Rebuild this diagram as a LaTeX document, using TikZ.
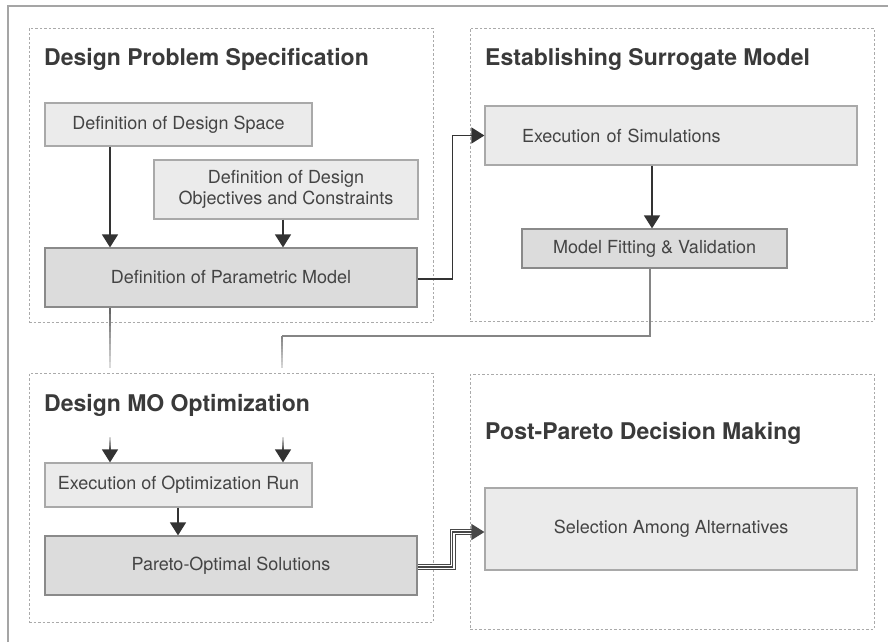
\documentclass[tikz,border=0pt]{standalone}
\usepackage{fontspec}
\setmainfont{TeX Gyre Heros}
\usetikzlibrary{arrows.meta,calc}
\definecolor{txt}{HTML}{444444}
\definecolor{ttlc}{HTML}{3A3A3A}
\definecolor{lbf}{HTML}{EBEBEB}
\definecolor{lbd}{HTML}{A9A9A9}
\definecolor{dbf}{HTML}{DCDCDC}
\definecolor{dbd}{HTML}{8A8A8A}
\definecolor{arc}{HTML}{333333}
\definecolor{pnl}{HTML}{AAAAAA}
\definecolor{frm}{HTML}{A5A5A5}
\definecolor{conn}{HTML}{858585}
\begin{document}
\begin{tikzpicture}[x=1pt,y=-1pt,
  lbox/.style={draw=lbd, fill=lbf, line width=1.2pt, inner sep=0pt, text=txt,
    font=\fontsize{18}{21}\selectfont, align=center},
  dbox/.style={lbox, draw=dbd, fill=dbf},
  panel/.style={draw=pnl, line width=0.9pt, dash pattern=on 2.5pt off 2pt, inner sep=0pt},
  ttl/.style={anchor=base west, inner sep=0pt, text=ttlc, font=\fontsize{23}{27}\selectfont\bfseries},
  arr/.style={draw=arc, line width=1.4pt, -{Triangle[width=16pt,length=13pt]}},
  tip/.style={draw=arc, line width=1.4pt, -{Triangle[width=16pt,length=13pt]}},
  connl/.style={draw=conn, line width=1.2pt},
  frame/.style={draw=frm, line width=1.6pt},
  ]
\useasboundingbox (0,0) rectangle (888,642);
% outer frame
\draw[frame] (8,642) -- (8,6) -- (888,6);

% panels
\node[panel, minimum width=404pt, minimum height=294pt] (p1) at (231,175) {};
\node[panel, minimum width=404pt, minimum height=293pt] (p2) at (672,174.5) {};
\node[panel, minimum width=404pt, minimum height=249pt] (p3) at (231,497.5) {};
\node[panel, minimum width=404pt, minimum height=255pt] (p4) at (672,501.5) {};

% titles
\node[ttl] (t1) at (44,66) {Design Problem Specification};
\node[ttl] (t2) at (485,66) {Establishing Surrogate Model};
\node[ttl] (t3) at (44,411) {Design MO Optimization};
\node[ttl] (t4) at (485,439) {Post-Pareto Decision Making};

% boxes
\node[lbox, minimum width=267pt, minimum height=43pt] (ds) at (178.5,124.5) {Definition of Design Space};
\node[lbox, minimum width=264pt, minimum height=59pt] (obj) at (286,189.5) {Definition of Design\\Objectives and Constraints};
\node[dbox, minimum width=372pt, minimum height=59pt] (pm) at (231,277.5) {Definition of Parametric Model};
\node[lbox, minimum height=59pt, text width=298pt, inner xsep=37pt, align=left] (sim) at (671,135.5) {Execution of Simulations};
\node[dbox, minimum width=265pt, minimum height=39pt] (mf) at (654.5,248.5) {Model Fitting \& Validation};
\node[lbox, minimum width=267pt, minimum height=44pt] (eor) at (178.5,485) {Execution of Optimization Run};
\node[dbox, minimum width=372pt, minimum height=59pt] (pos) at (231,565.5) {Pareto-Optimal Solutions};
\node[lbox, minimum width=372pt, minimum height=82pt] (sel) at (671,529) {Selection Among Alternatives};

% arrows in panel 1
\draw[arr] ([xshift=-68.5pt]ds.south) -- ([xshift=-68.5pt]ds.south |- pm.north);
\draw[arr] ([xshift=-3pt]obj.south) -- ([xshift=-3pt]obj.south |- pm.north);
% panel 1 -> panel 2
\draw[arr] ([yshift=-1.5pt]pm.east) -- ++(35,0) |- (sim.west);
% panel 2
\draw[arr] ([xshift=-19pt]sim.south) -- ([xshift=-19pt]sim.south |- mf.north);

% connectors into panel 3
\coordinate (a0) at ([xshift=-121pt]pm.south);
\coordinate (a1) at (110,368);
\foreach \i [evaluate=\i as \c using 60-5*\i, evaluate=\i as \j using \i+1] in {0,...,9}
  \draw[line width=1.2pt, black!\c] ($(a0)!\i/10!(a1)$) -- ($(a0)!\j/10!(a1)$);

\coordinate (b0) at ([xshift=-4.5pt]mf.south);
\coordinate (b1) at (650,336);
\coordinate (b2) at (282,336);
\coordinate (b3) at (282,368);
\draw[connl] (b0) -- (b1) -- (b2);
\foreach \i [evaluate=\i as \c using 48-3.5*\i, evaluate=\i as \j using \i+1] in {0,...,9}
  \draw[line width=1.2pt, black!\c] ($(b2)!\i/10!(b3)$) -- ($(b2)!\j/10!(b3)$);

% stubs into Execution of Optimization Run
\coordinate (s1) at (110,437);
\coordinate (s2) at (283,437);
\coordinate (e1) at ([xshift=-68.5pt]eor.north);
\coordinate (e2) at ([xshift=104.5pt]eor.north);
\foreach \s/\e in {s1/e1, s2/e2}{
  \foreach \i [evaluate=\i as \c using 15+6*\i, evaluate=\i as \j using \i+1] in {0,...,9}
    \draw[line width=1.4pt, black!\c] ($(\s)!\i/20!(\e)$) -- ($(\s)!\j/20!(\e)$);
  \draw[tip] ($(\s)!0.5!(\e)$) -- (\e);
}
\draw[arr] ([xshift=-0.5pt]eor.south) -- ([xshift=-0.5pt]eor.south |- pos.north);

% triple-line arrow to Selection
\draw[draw=arc!90, line width=6pt, shorten >=12pt] ([yshift=-1.5pt]pos.east) -- ++(35,0) |- ([yshift=-3pt]sel.west);
\draw[draw=white, line width=3.8pt, shorten >=12.5pt] ([yshift=-1.5pt]pos.east) -- ++(35.5,0) |- ([yshift=-3pt]sel.west);
\draw[draw=arc!90, line width=1.2pt, -{Triangle[width=16pt,length=13pt]}] ([yshift=-1.5pt]pos.east) -- ++(35,0) |- ([yshift=-3pt]sel.west);
\end{tikzpicture}
\end{document}
